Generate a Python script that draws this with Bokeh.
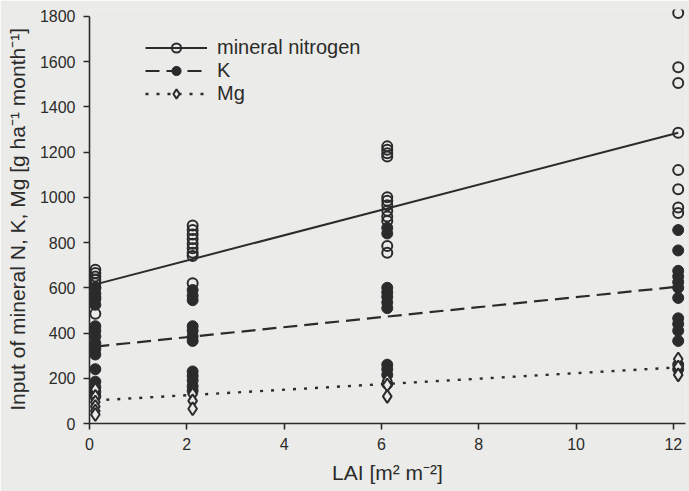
from bokeh.plotting import figure
from bokeh.models import Range1d, FixedTicker, Legend, LegendItem
from bokeh.embed import file_html
from bokeh.resources import INLINE

# LAI values of the four sampled stands
lai_cols = [0.12, 2.12, 6.12, 12.1]

# mineral nitrogen input per stand [g ha-1 month-1]
n_vals = [
    [680, 665, 650, 635, 620, 600, 560, 485],
    [875, 855, 835, 815, 795, 775, 755, 740, 620],
    [1225, 1210, 1195, 1180, 1000, 985, 965, 940, 915, 895, 785, 755],
    [1815, 1575, 1505, 1285, 1120, 1035, 955, 930],
]
# K input
k_vals = [
    [600, 575, 550, 525, 430, 410, 385, 355, 330, 305, 240, 185, 160, 140, 120],
    [590, 565, 545, 430, 410, 385, 365, 230, 210, 190, 165, 145],
    [865, 840, 600, 580, 560, 535, 510, 260, 240, 215, 175],
    [855, 765, 675, 650, 625, 600, 555, 465, 440, 410, 365, 260, 240],
]
# Mg input
mg_vals = [
    [150, 120, 95, 75, 55, 40],
    [130, 100, 65],
    [190, 170, 120],
    [285, 250, 215],
]

# fitted regression lines
fit_lai = [0.12, 12.1]
fit_n = [615, 1285]
fit_k = [340, 605]
fit_mg = [102, 248]

x_ticks = [0, 2, 4, 6, 8, 10, 12]
y_ticks = [0, 200, 400, 600, 800, 1000, 1200, 1400, 1600, 1800]


def flatten(cols):
    xs, ys = [], []
    for x, vals in zip(lai_cols, cols):
        for v in vals:
            xs.append(x)
            ys.append(v)
    return xs, ys


BG = "#ebebe9"
INK = "#2b2b2b"
FONT = "Liberation Sans"

p = figure(width=689, height=491, output_backend="svg", toolbar_location=None,
           x_range=Range1d(0, 12.25), y_range=Range1d(0, 1830),
           min_border_left=89, min_border_right=4, min_border_top=9,
           min_border_bottom=68)
p.background_fill_color = BG
p.border_fill_color = BG
p.outline_line_color = None
p.grid.visible = False

lk = p.line(fit_lai, fit_k, line_color=INK, line_width=2.2, line_dash="14 7")
lmg = p.line(fit_lai, fit_mg, line_color=INK, line_width=2.4, line_dash="3 8")
ln = p.line(fit_lai, fit_n, line_color=INK, line_width=2)

kx, ky = flatten(k_vals)
sk = p.scatter(kx, ky, marker="circle", size=11, fill_color=INK, line_color=INK, line_width=1)
nx, ny = flatten(n_vals)
sn = p.scatter(nx, ny, marker="circle", size=10, fill_color=None, line_color=INK, line_width=2)
mx, my = flatten(mg_vals)
sm = p.scatter(mx, my, marker="diamond", size=13, fill_color=BG,
               line_color=INK, line_width=2)

for ax in (p.xaxis[0], p.yaxis[0]):
    ax.axis_line_color = INK
    ax.axis_line_width = 1.6
    ax.major_tick_line_color = INK
    ax.major_tick_line_width = 1.6
    ax.major_tick_out = 6
    ax.major_tick_in = 0
    ax.minor_tick_line_color = None
    ax.major_label_text_font = FONT
    ax.major_label_text_font_size = "16px"
    ax.major_label_text_color = INK
    ax.axis_label_text_font = FONT
    ax.axis_label_text_font_size = "21px"
    ax.axis_label_text_font_style = "normal"
    ax.axis_label_text_color = INK

p.xaxis.ticker = FixedTicker(ticks=x_ticks)
p.yaxis.ticker = FixedTicker(ticks=y_ticks)
p.yaxis.bounds = (0, 1800)
p.xaxis.major_label_standoff = 8
p.yaxis.major_label_standoff = 8
p.xaxis.axis_label = "LAI [m\u00b2 m\u207b\u00b2]"
p.yaxis.axis_label = "Input of mineral N, K,  Mg [g ha\u207b\u00b9 month\u207b\u00b9]"
p.xaxis.axis_label_standoff = 8
p.yaxis.axis_label_standoff = 8

legend = Legend(items=[
    LegendItem(label="mineral nitrogen", renderers=[ln, sn]),
    LegendItem(label="K", renderers=[lk, sk]),
    LegendItem(label="Mg", renderers=[lmg, sm]),
], location=(56, 318))
legend.padding = 0
legend.margin = 0
legend.spacing = 0
legend.glyph_width = 62
legend.glyph_height = 23
legend.label_height = 23
legend.label_standoff = 10
legend.border_line_alpha = 0
legend.background_fill_alpha = 0
legend.label_text_font = FONT
legend.label_text_font_size = "20px"
legend.label_text_color = INK
p.add_layout(legend, "center")

open("out.html", "w").write(file_html(p, INLINE))
